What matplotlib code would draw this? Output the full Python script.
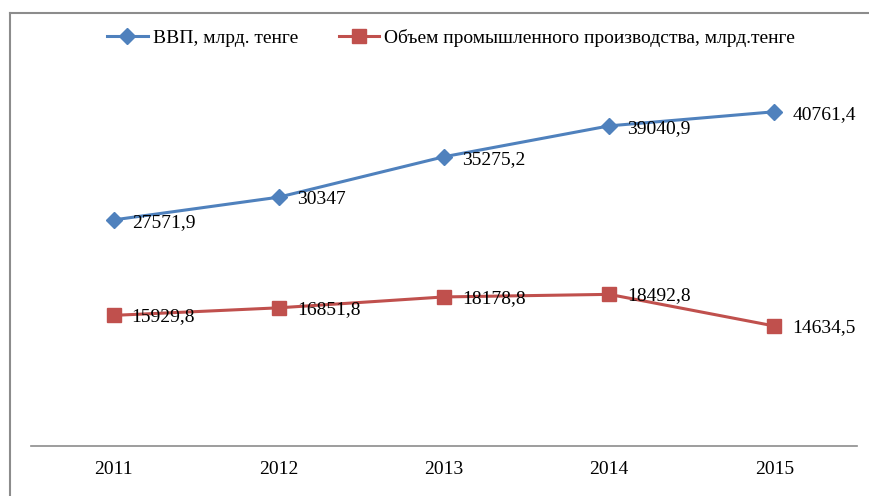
import matplotlib.pyplot as plt
from matplotlib.lines import Line2D

plt.rcParams['font.family'] = ['Liberation Serif', 'DejaVu Serif']

years = ['2011', '2012', '2013', '2014', '2015']
gdp = [27571.9, 30347, 35275.2, 39040.9, 40761.4]
industry = [15929.8, 16851.8, 18178.8, 18492.8, 14634.5]
gdp_labels = ['27571,9', '30347', '35275,2', '39040,9', '40761,4']
industry_labels = ['15929,8', '16851,8', '18178,8', '18492,8', '14634,5']

blue = '#4F81BD'
red = '#C0504D'

fig = plt.figure(figsize=(8.69, 4.96), dpi=100)
ax = fig.add_axes([31 / 869, 1 - 446 / 496, 826 / 869, 410 / 496])

x = list(range(len(years)))
ax.plot(x, gdp, color=blue, lw=2.2, marker='D', ms=8,
        label='ВВП, млрд. тенге')
ax.plot(x, industry, color=red, lw=2.2, marker='s', ms=10.5,
        label='Объем промышленного производства, млрд.тенге')

# подписи значений справа от точек
for xi, v, t in zip(x, gdp, gdp_labels):
    ax.annotate(t, (xi, v), xytext=(13, -2), textcoords='offset points',
                ha='left', va='center', fontsize=14)
for xi, v, t in zip(x, industry, industry_labels):
    ax.annotate(t, (xi, v), xytext=(13, -1), textcoords='offset points',
                ha='left', va='center', fontsize=14)

ax.set_xlim(-0.5, 4.5)
ax.set_ylim(0, 50000)
ax.set_xticks(x)
ax.set_xticklabels(years, fontsize=14)
ax.set_yticks([])
ax.tick_params(axis='x', length=0, pad=11)
for s in ['top', 'right', 'left']:
    ax.spines[s].set_visible(False)
ax.spines['bottom'].set_color('#8C8C8C')
ax.spines['bottom'].set_linewidth(1.2)

fig.legend(loc='center', bbox_to_anchor=(451 / 869, 1 - 38 / 496), ncol=2,
           frameon=False, fontsize=14, handlelength=2.1, handletextpad=0.25,
           columnspacing=2.1)

# рамка области диаграммы
fig.add_artist(Line2D([9.5 / 869, 9.5 / 869], [0, 1 - 13 / 496],
                      transform=fig.transFigure, color='#8C8C8C', lw=1.5))
fig.add_artist(Line2D([9.5 / 869, 1], [1 - 13 / 496, 1 - 13 / 496],
                      transform=fig.transFigure, color='#8C8C8C', lw=1.5))

fig.savefig('out.png', dpi=100)
plt.close()
